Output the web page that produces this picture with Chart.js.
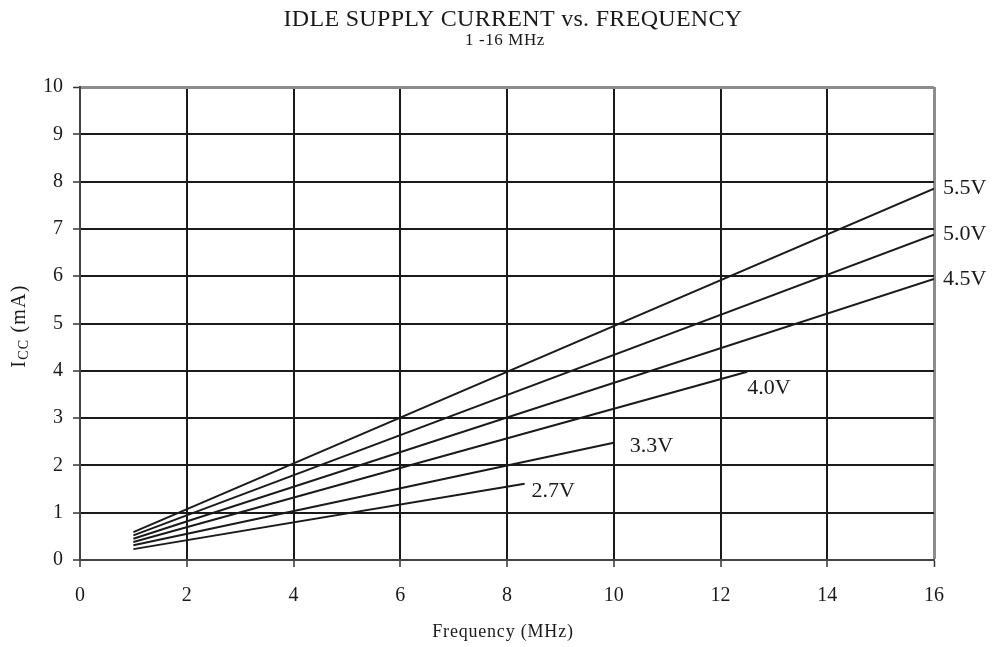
<!DOCTYPE html>
<html>
<head>
<meta charset="utf-8">
<title>Idle Supply Current vs. Frequency</title>
<script src="https://cdn.jsdelivr.net/npm/chart.js@4.4.1/dist/chart.umd.min.js"></script>
<style>
  html, body { margin:0; padding:0; background:#fff; }
  #wrap { width:997px; height:647px; }
</style>
</head>
<body>
<div id="wrap"><canvas id="chart" width="997" height="647"></canvas></div>
<script>
// supply voltage curves, each a straight segment from start to end
const voltages = ['5.5V', '5.0V', '4.5V', '4.0V', '3.3V', '2.7V'];
const startFreq = [1, 1, 1, 1, 1, 1];
const endFreq = [16, 16, 16, 12.5, 10, 8.33];
const startCurrent = [0.59, 0.52, 0.45, 0.38, 0.31, 0.23];
const endCurrent = [7.85, 6.88, 5.94, 3.98, 2.48, 1.61];

const xTicks = [0, 2, 4, 6, 8, 10, 12, 14, 16];
const yTicks = [0, 1, 2, 3, 4, 5, 6, 7, 8, 9, 10];

const SERIF = '"Liberation Serif", "Times New Roman", serif';
const INK = '#1a1a1a';
const FRAME = '#8c8c8c';

// where each curve's name sits relative to its last point (px)
const labelShift = {
  '5.5V': [9, 0], '5.0V': [9, 0], '4.5V': [9, 0],
  '4.0V': [0, 16], '3.3V': [16, 4], '2.7V': [7, 7]
};

const datasets = voltages.map((v, i) => ({
  label: v,
  data: [{x: startFreq[i], y: startCurrent[i]}, {x: endFreq[i], y: endCurrent[i]}],
  borderColor: INK,
  borderWidth: 2,
  pointRadius: 0,
  tension: 0
}));

const curveLabels = {
  id: 'curveLabels',
  afterDatasetsDraw(chart){
    const ctx = chart.ctx;
    ctx.save();
    ctx.fillStyle = INK;
    ctx.font = '22px ' + SERIF;
    ctx.textAlign = 'left';
    ctx.textBaseline = 'middle';
    chart.data.datasets.forEach((ds, i) => {
      const pts = chart.getDatasetMeta(i).data;
      const last = pts[pts.length - 1];
      const sh = labelShift[ds.label] || [8, 0];
      ctx.fillText(ds.label, last.x + sh[0], last.y + sh[1]);
    });
    ctx.restore();
  }
};

// headings and axis titles (the y title needs a subscript)
const texts = {
  id: 'texts',
  afterDraw(chart){
    const ctx = chart.ctx;
    ctx.save();
    ctx.fillStyle = INK;
    ctx.textAlign = 'center';
    ctx.textBaseline = 'middle';
    ctx.letterSpacing = '0.3px';
    ctx.font = '24px ' + SERIF;
    ctx.fillText('IDLE SUPPLY CURRENT vs. FREQUENCY', 513, 20);
    ctx.letterSpacing = '0.6px';
    ctx.font = '17px ' + SERIF;
    ctx.fillText('1 -16 MHz', 505, 41);
    ctx.letterSpacing = '0.8px';
    ctx.font = '18px ' + SERIF;
    ctx.fillText('Frequency (MHz)', 503, 632);

    // rotated y title: I + subscript CC + (mA)
    ctx.letterSpacing = '1.2px';
    ctx.translate(20, 326);
    ctx.rotate(-Math.PI / 2);
    ctx.textAlign = 'left';
    const big = '20px ' + SERIF, small = '14px ' + SERIF;
    ctx.font = big; const w1 = ctx.measureText('I').width;
    ctx.font = small; const w2 = ctx.measureText('CC').width;
    ctx.font = big; const w3 = ctx.measureText(' (mA)').width;
    let x = -(w1 + w2 + w3) / 2;
    ctx.font = big; ctx.fillText('I', x, 0); x += w1;
    ctx.font = small; ctx.fillText('CC', x, 4); x += w2;
    ctx.font = big; ctx.fillText(' (mA)', x, 0);
    ctx.restore();
  }
};

new Chart(document.getElementById('chart'), {
  type: 'line',
  data: { datasets },
  options: {
    responsive: false,
    animation: false,
    layout: { padding: { left: 0, right: 63, top: 87, bottom: 0 } },
    plugins: {
      legend: { display: false },
      tooltip: { enabled: false },
      title: { display: false }
    },
    scales: {
      x: {
        type: 'linear',
        min: xTicks[0],
        max: xTicks[xTicks.length - 1],
        afterBuildTicks: s => { s.ticks = xTicks.map(v => ({value: v})); },
        afterFit: s => { s.height = 87; },
        ticks: { color: INK, font: { family: SERIF, size: 20 }, padding: 17 },
        grid: {
          color: c => (c.tick && c.tick.value === 16) ? FRAME : INK,
          lineWidth: c => (c.tick && c.tick.value === 16) ? 3 : 2,
          tickColor: '#333',
          tickLength: 7,
          tickWidth: 1.5
        },
        border: { color: '#444', width: 2 }
      },
      y: {
        type: 'linear',
        min: yTicks[0],
        max: yTicks[yTicks.length - 1],
        afterBuildTicks: s => { s.ticks = yTicks.map(v => ({value: v})); },
        afterFit: s => { s.width = 80; },
        ticks: { color: INK, font: { family: SERIF, size: 20 }, padding: 10 },
        grid: {
          color: c => (c.tick && c.tick.value === 10) ? FRAME : INK,
          lineWidth: c => (c.tick && c.tick.value === 10) ? 3 : 2,
          tickColor: '#333',
          tickLength: 7,
          tickWidth: 1.5
        },
        border: { color: '#444', width: 2 }
      }
    }
  },
  plugins: [curveLabels, texts]
});
</script>
</body>
</html>
